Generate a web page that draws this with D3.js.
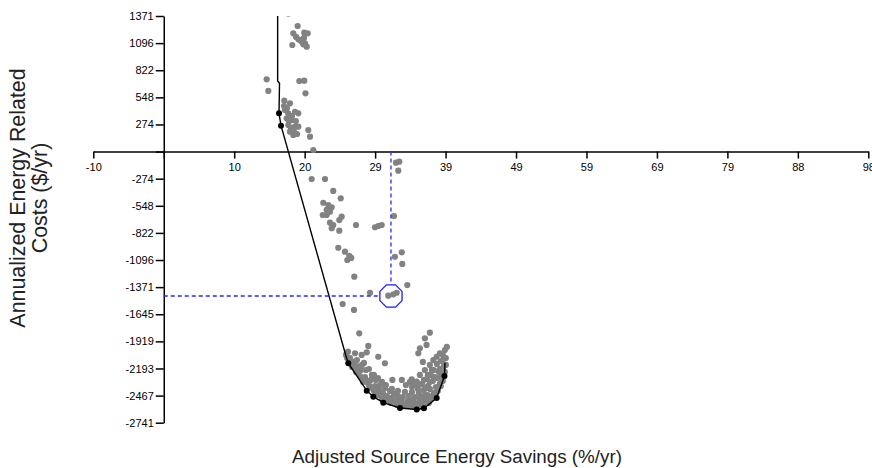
<!DOCTYPE html>
<html>
<head>
<meta charset="utf-8">
<script src="https://cdn.jsdelivr.net/npm/d3@7"></script>
<style>
	body { margin: 0; background: #fff; }
	svg { display: block; }
	.tick text { font-family: "Liberation Sans", Arial, sans-serif; font-size: 11px; fill: #000; }
	.axis path, .axis line { stroke: #000; stroke-width: 1.5px; }
	.title { font-family: "Liberation Sans", Arial, sans-serif; fill: #222; }
</style>
</head>
<body>
<div class="chart"></div>
<script>

// axis set-up
var xDomain = [-10, 98];
var xTickLabels = ["-10", "", "10", "20", "29", "39", "49", "59", "69", "79", "88", "98"];
var yDomain = [-2741, 1371];
var yTickLabels = ["1371", "1096", "822", "548", "274", "", "-274", "-548", "-822", "-1096",
	"-1371", "-1645", "-1919", "-2193", "-2467", "-2741"];

var xTitle = "Adjusted Source Energy Savings (%/yr)";
var yTitle = ["Annualized Energy Related", "Costs ($/yr)"];

// dominated solutions [savings %, cost $]
var grayPoints = [
	[17.17, 1395],
	[18.48, 1270], [17.87, 1196], [19.40, 1202], [19.88, 1196], [18.57, 1135], [19.04, 1111],
	[17.73, 1078], [19.50, 1095], [19.74, 1061], [18.80, 1128], [19.26, 1085], [18.25, 1159], [19.36, 1149],
	[14.16, 731], [14.39, 613], [18.71, 714], [19.40, 717], [19.57, 589],
	[16.62, 515], [17.41, 488], [16.71, 421], [17.17, 387], [18.11, 403], [18.57, 387], [16.95, 337],
	[17.65, 319], [18.11, 252], [17.17, 269], [18.57, 252], [17.41, 201], [17.87, 168], [19.96, 218],
	[20.20, 151], [20.66, 16], [16.57, 460], [16.99, 441], [17.69, 360], [17.27, 309], [18.23, 309],
	[17.55, 239], [17.97, 198], [18.39, 178],
	[20.43, -277], [22.29, -277], [23.44, -398], [24.48, -472], [22.05, -517], [22.75, -540], [23.22, -563],
	[22.52, -590], [21.97, -641], [22.52, -641], [22.98, -608], [24.61, -658], [24.28, -692], [22.98, -719],
	[23.44, -742], [23.22, -775], [24.28, -800], [26.61, -742], [29.25, -765], [29.71, -752], [30.19, -742],
	[32.18, -112], [32.64, -102], [32.50, -193], [31.90, -651], [24.14, -972], [25.07, -1012], [25.67, -1055],
	[25.40, -1096], [25.95, -1075], [26.37, -1265], [32.99, -1018], [32.03, -1063], [33.06, -1136],
	[33.76, -1349], [28.56, -1427], [31.11, -1457], [31.81, -1443], [32.28, -1427], [24.75, -1541], [26.33, -1601],
	[36.90, -1831], [36.21, -1888], [36.44, -1955], [35.51, -1989], [35.29, -2039], [38.99, -2006],
	[38.29, -2039], [37.85, -2074], [37.38, -2107], [39.27, -1975],
	[27.06, -1837], [28.32, -1965], [28.10, -2029], [29.71, -2074], [30.64, -2140], [25.49, -2023],
	[26.47, -2039], [27.40, -2056], [31.68, -2309], [33.00, -2309], [34.37, -2302], [35.07, -2326],
	[25.77, -2087], [26.33, -2127], [26.05, -2178], [26.74, -2168], [26.61, -2228], [27.30, -2208],
	[27.16, -2269], [27.86, -2279], [27.58, -2329], [28.27, -2339], [28.69, -2309], [28.55, -2380],
	[29.25, -2370], [29.11, -2420], [29.81, -2410], [29.67, -2461], [30.36, -2440], [30.22, -2491],
	[30.92, -2471], [30.92, -2511], [31.61, -2491], [31.48, -2541], [32.17, -2521], [32.31, -2562],
	[33.01, -2531], [33.42, -2562], [33.84, -2521], [34.26, -2562], [34.68, -2531], [35.09, -2562],
	[35.51, -2521], [35.93, -2552], [36.35, -2511], [36.76, -2541], [37.04, -2481], [37.46, -2440],
	[36.62, -2461], [35.79, -2481], [34.81, -2481], [33.98, -2471], [33.14, -2481], [32.45, -2471],
	[31.89, -2450], [31.34, -2420], [30.64, -2390], [29.94, -2360], [29.39, -2309], [28.83, -2258],
	[28.00, -2208], [27.44, -2157], [26.74, -2107], [25.21, -2056], [25.63, -2127],
	[33.56, -2360], [34.40, -2380], [35.23, -2400], [36.07, -2410], [36.90, -2400], [37.74, -2380],
	[38.29, -2349], [38.01, -2289], [38.57, -2258], [38.29, -2198], [38.85, -2168], [38.43, -2117],
	[37.88, -2147], [37.46, -2208], [37.04, -2258], [36.48, -2299], [37.32, -2319], [36.62, -2370],
	[35.79, -2349], [34.95, -2339], [34.12, -2329], [39.13, -2087], [38.71, -2056], [36.21, -2208],
	[35.51, -2258], [36.90, -2157], [35.93, -2127],
	[25.35, -2087], [25.91, -2137], [26.47, -2188], [26.88, -2238], [27.44, -2289], [28.00, -2319],
	[28.41, -2360], [28.97, -2400], [29.53, -2430], [30.08, -2461], [30.64, -2491], [31.20, -2511],
	[31.75, -2521], [32.45, -2541], [33.14, -2562], [33.84, -2572], [34.54, -2572], [35.23, -2572],
	[35.93, -2572], [36.62, -2511], [37.18, -2491], [37.60, -2461], [38.01, -2420], [38.43, -2370],
	[38.71, -2319], [38.99, -2228], [39.13, -2157], [32.73, -2501], [34.12, -2511], [35.51, -2501],
	[36.21, -2461], [35.37, -2440], [34.40, -2430], [33.42, -2430], [32.45, -2420], [31.61, -2400],
	[30.78, -2360], [30.22, -2329], [29.67, -2289], [29.11, -2258], [28.41, -2198], [27.72, -2137],
	[38.71, -2107], [38.15, -2228], [37.60, -2279], [36.90, -2329], [36.35, -2390], [37.18, -2208],
	[36.62, -2258], [36.07, -2309], [35.23, -2370], [34.54, -2349]
];

// pareto front
var frontLine = [
	[15.69, 1600], [15.69, 714], [15.95, 690], [15.88, 387], [16.16, 262], [25.21, -2066], [25.53, -2140],
	[28.10, -2417], [29.02, -2478], [30.41, -2539], [32.74, -2592], [35.07, -2607], [36.08, -2595],
	[37.85, -2491], [38.94, -2269], [39.01, -2134]
];
var frontPoints = [
	[15.88, 387], [16.16, 262], [25.53, -2140], [28.10, -2417], [29.02, -2478], [30.41, -2539],
	[32.74, -2592], [35.07, -2607], [36.08, -2595], [37.85, -2491], [38.94, -2269]
];

// selected design
var selected = [31.48, -1460];


var margin = { left: 93.3, right: 3.7, top: 16, bottom: 45.3 },
	W = 872, H = 468;

var x = d3.scaleLinear().domain(xDomain).range([margin.left, W - margin.right]);
var y = d3.scaleLinear().domain(yDomain).range([H - margin.bottom, margin.top]);

var xTickVals = d3.range(xTickLabels.length).map(function (i) {
	return xDomain[0] + i * (xDomain[1] - xDomain[0]) / (xTickLabels.length - 1);
});
var yTickVals = d3.range(yTickLabels.length).map(function (i) {
	return yDomain[1] - i * (yDomain[1] - yDomain[0]) / (yTickLabels.length - 1);
});

var y0 = y(0),
	xAxisAt = x(xTickVals[1]);

var svg = d3.select(".chart").append("svg")
	.attr("width", W)
	.attr("height", H);

svg.append("rect").attr("width", W).attr("height", H).attr("fill", "#fff");

svg.append("clipPath").attr("id", "plot")
	.append("rect")
	.attr("x", x.range()[0])
	.attr("y", y.range()[1])
	.attr("width", x.range()[1] - x.range()[0])
	.attr("height", y.range()[0] - y.range()[1] + 6);

// axes
svg.append("g")
	.attr("class", "axis x")
	.attr("transform", "translate(0," + y0 + ")")
	.call(d3.axisBottom(x).tickValues(xTickVals).tickSize(7).tickSizeOuter(0).tickPadding(5)
		.tickFormat(function (d, i) { return xTickLabels[i]; }));

svg.append("g")
	.attr("class", "axis y")
	.attr("transform", "translate(" + xAxisAt + ",0)")
	.call(d3.axisLeft(y).tickValues(yTickVals).tickSize(8).tickSizeOuter(0).tickPadding(2)
		.tickFormat(function (d, i) { return yTickLabels[i]; }));

var plot = svg.append("g").attr("clip-path", "url(#plot)");

plot.selectAll(".dot")
	.data(grayPoints)
	.enter().append("circle")
	.attr("class", "dot")
	.attr("cx", function (d) { return x(d[0]); })
	.attr("cy", function (d) { return y(d[1]); })
	.attr("r", 3.1)
	.attr("fill", "#828282");

plot.append("path")
	.datum(frontLine)
	.attr("d", d3.line().x(function (d) { return x(d[0]); }).y(function (d) { return y(d[1]); }))
	.attr("fill", "none")
	.attr("stroke", "#000")
	.attr("stroke-width", 1.4);

plot.selectAll(".front")
	.data(frontPoints)
	.enter().append("circle")
	.attr("class", "front")
	.attr("cx", function (d) { return x(d[0]); })
	.attr("cy", function (d) { return y(d[1]); })
	.attr("r", 3)
	.attr("fill", "#000");

// selected design marker and guides
var sx = x(selected[0]),
	sy = y(selected[1]),
	rad = 12;

svg.append("line")
	.attr("x1", sx).attr("x2", sx)
	.attr("y1", y0).attr("y2", sy - rad)
	.attr("stroke", "#2a2aff").attr("stroke-width", 1.3).attr("stroke-dasharray", "4,3");

svg.append("line")
	.attr("x1", xAxisAt).attr("x2", sx - rad)
	.attr("y1", sy).attr("y2", sy)
	.attr("stroke", "#2a2aff").attr("stroke-width", 1.3).attr("stroke-dasharray", "4,3");

svg.append("path")
	.attr("d", d3.lineRadial().angle(function (d) { return d; }).radius(rad)
		.curve(d3.curveLinearClosed)(d3.range(8).map(function (i) { return Math.PI / 8 + i * Math.PI / 4; })))
	.attr("transform", "translate(" + sx + "," + sy + ")")
	.attr("fill", "none")
	.attr("stroke", "#1a1aff")
	.attr("stroke-width", 1.3);

// titles
svg.append("text")
	.attr("class", "title")
	.attr("x", 457)
	.attr("y", 463)
	.attr("text-anchor", "middle")
	.style("font-size", "18.8px")
	.text(xTitle);

var yt = svg.append("text")
	.attr("class", "title")
	.attr("transform", "translate(0,198) rotate(-90)")
	.attr("text-anchor", "middle")
	.style("font-size", "21.4px");

yt.selectAll("tspan")
	.data(yTitle)
	.enter().append("tspan")
	.attr("x", 0)
	.attr("y", function (d, i) { return 25 + i * 22; })
	.text(function (d) { return d; });

</script>
</body>
</html>
